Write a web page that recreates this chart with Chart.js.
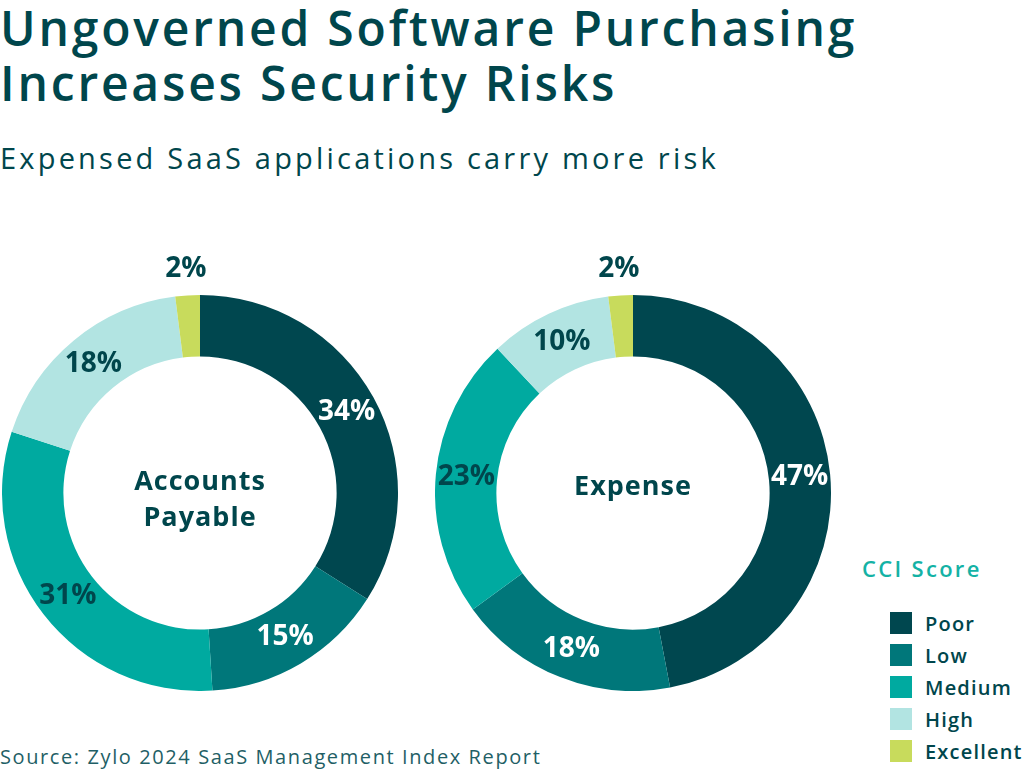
<!DOCTYPE html>
<html>
<head>
<meta charset="utf-8">
<script src="https://cdn.jsdelivr.net/npm/chart.js@4.4.0/dist/chart.umd.min.js"></script>
<style>
body{margin:0;background:#fff;width:1024px;height:772px;position:relative;overflow:hidden;font-family:'Open Sans',sans-serif;color:#00464c}
#title{position:absolute;left:0;top:0;font-size:48px;font-weight:600;line-height:55px;letter-spacing:2.8px;white-space:nowrap}
#sub{position:absolute;left:0;top:138px;font-size:29px;font-weight:400;letter-spacing:3.2px;white-space:nowrap}
#src{position:absolute;left:0;top:743px;font-size:20px;color:#1f5f66;letter-spacing:1.6px;white-space:nowrap}
.box{position:absolute;width:396px;height:446px;top:245px}
#legend{position:absolute;left:862px;top:553px;white-space:nowrap}
#legend .t{font-size:22px;font-weight:600;color:#14b2a5;margin-bottom:24px;letter-spacing:2.3px}
#legend .row{display:flex;align-items:center;height:32px;margin-left:28px;font-size:20px;font-weight:600;letter-spacing:1.2px}
#legend .sw{width:22px;height:22px;margin-right:13px}
</style>
</head>
<body>
<div id="title">Ungoverned Software Purchasing<br>Increases Security Risks</div>
<div id="sub">Expensed SaaS applications carry more risk</div>
<div class="box" style="left:2px"><canvas id="c1"></canvas></div>
<div class="box" style="left:435px"><canvas id="c2"></canvas></div>
<div id="legend"><div class="t">CCI Score</div></div>
<div id="src">Source: Zylo 2024 SaaS Management Index Report</div>
<script>
var categories = ['Poor', 'Low', 'Medium', 'High', 'Excellent'];
var accountsPayable = [34, 15, 31, 18, 2];
var expense = [47, 18, 23, 10, 2];
var colors = ['#00474f', '#00777a', '#00aaa0', '#b2e4e2', '#c8db5c'];

var leg = document.getElementById('legend');
for (var i = 0; i < categories.length; i++) {
    var r = document.createElement('div');
    r.className = 'row';
    r.innerHTML = '<span class="sw" style="background:' + colors[i] + '"></span>' + categories[i];
    leg.appendChild(r);
}

function isDark(hex){
    var n = parseInt(hex.slice(1), 16);
    var l = 0.299*(n>>16) + 0.587*((n>>8)&255) + 0.114*(n&255);
    return l < 110;
}

var pctLabels = {
    id: 'pctLabels',
    afterDatasetsDraw: function(chart){
        var ctx = chart.ctx;
        var meta = chart.getDatasetMeta(0);
        var data = chart.data.datasets[0].data;
        ctx.save();
        ctx.font = 'bold 28px "Open Sans"';
        ctx.textAlign = 'center';
        ctx.textBaseline = 'middle';
        meta.data.forEach(function(arc, i){
            var p = arc.getProps(['x','y','startAngle','endAngle','innerRadius','outerRadius'], true);
            var a = (p.startAngle + p.endAngle) / 2;
            var rr = (p.innerRadius + p.outerRadius) / 2;
            var col = isDark(colors[i]) ? '#fff' : '#00464c';
            if (data[i] < 5) { rr = p.outerRadius + 26; col = '#00464c'; }
            ctx.fillStyle = col;
            ctx.fillText(data[i] + '%', p.x + Math.cos(a)*rr, p.y + Math.sin(a)*rr);
        });
        // centre text
        var lines = chart.options.plugins.pctLabels.center;
        ctx.fillStyle = '#00464c';
        ctx.font = 'bold 27px "Open Sans"';
        ctx.letterSpacing = '1px';
        var cx = meta.data[0].x, cy = meta.data[0].y;
        var lh = 36;
        lines.forEach(function(t, k){
            var off = lines.length > 1 ? 7 : -6;
            ctx.fillText(t, cx, cy + (k - (lines.length-1)/2)*lh + off);
        });
        ctx.restore();
    }
};

function makeChart(id, vals, centre){
    return new Chart(document.getElementById(id), {
        type: 'doughnut',
        data: {
            labels: categories,
            datasets: [{ data: vals, backgroundColor: colors, borderWidth: 0 }]
        },
        options: {
            responsive: true,
            maintainAspectRatio: false,
            animation: false,
            cutout: '69%',
            layout: { padding: { top: 50 } },
            plugins: {
                legend: { display: false },
                tooltip: { enabled: false },
                pctLabels: { center: centre }
            }
        },
        plugins: [pctLabels]
    });
}

makeChart('c1', accountsPayable, ['Accounts', 'Payable']);
makeChart('c2', expense, ['Expense']);
</script>
</body>
</html>
